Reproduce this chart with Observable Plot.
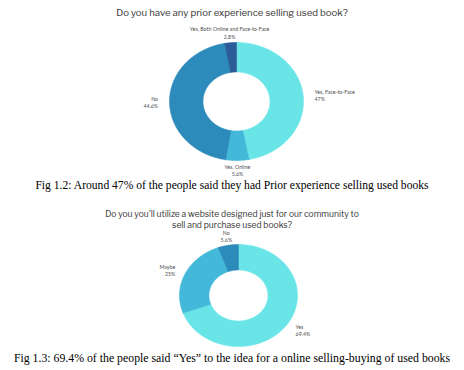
<!DOCTYPE html>
<html>
<head>
<meta charset="utf-8">
<script src="https://cdn.jsdelivr.net/npm/d3@7"></script>
<script src="https://cdn.jsdelivr.net/npm/@observablehq/plot@0.6"></script>
<style>
  html, body { margin: 0; padding: 0; background: #fff; }
  #wrap { position: relative; width: 464px; height: 370px; overflow: hidden; }
  .abs { position: absolute; left: 0; }
  .title { width: 464px; text-align: center; font-family: "Libre Franklin", Lato, "Open Sans", sans-serif; color: #333; }
  .caption { width: 464px; text-align: center; font-family: "Liberation Serif", "Times New Roman", serif; color: #000; white-space: nowrap; }
</style>
</head>
<body>
<div id="wrap"></div>
<script>
// Chart 1 data
const q1Title = "Do you have any prior experience selling used book?";
const q1Categories = ["Yes, Face-to-Face", "Yes, Online", "No", "Yes, Both Online and Face-to-Face"];
const q1Values = [47, 5.6, 44.6, 2.8];
const q1Caption = "Fig 1.2: Around 47% of the people said they had Prior experience selling used books";

// Chart 2 data
const q2Title = ["Do you you'll utilize a website designed just for our community to", "sell and purchase used books?"];
const q2Categories = ["Yes", "Maybe", "No"];
const q2Values = [69.4, 25, 5.6];
const q2Caption = "Fig 1.3: 69.4% of the people said \u201cYes\u201d to the idea for a online selling-buying of used books";

const q1Colors = ["#69e5e7", "#43b8d8", "#2d8bbb", "#2b5d98"];
const q2Colors = ["#69e5e7", "#43b8d8", "#2d8bbb"];

const wrap = document.getElementById("wrap");

function donut(categories, values, colors, g) {
  const data = categories.map((c, i) => ({key: c, value: values[i]}));
  const arcs = d3.pie().sort(null).value(d => d.value)(data);
  const inner = 0.5;
  const pts = [];
  for (const a of arcs) {
    const n = Math.max(2, Math.ceil((a.endAngle - a.startAngle) / (Math.PI / 180)) + 1);
    const ring = [];
    for (let i = 0; i < n; i++) {
      const t = a.startAngle + (a.endAngle - a.startAngle) * i / (n - 1);
      ring.push({key: a.data.key, x: Math.sin(t), y: Math.cos(t)});
    }
    for (let i = n - 1; i >= 0; i--) {
      const t = a.startAngle + (a.endAngle - a.startAngle) * i / (n - 1);
      ring.push({key: a.data.key, x: inner * Math.sin(t), y: inner * Math.cos(t)});
    }
    ring.push(ring[0]);
    pts.push(...ring);
  }
  const labels = arcs.map(a => {
    const m = (a.startAngle + a.endAngle) / 2;
    const s = Math.sin(m);
    return {
      x: g.lr * s,
      y: g.lr * Math.cos(m),
      text: a.data.key + "\n" + a.data.value + "%",
      anchor: s > 0.5 ? "start" : s < -0.5 ? "end" : "middle"
    };
  });
  const textOpts = {x: "x", y: "y", text: "text", fontSize: 5.3, fill: "#505050", lineHeight: 1.35,
    fontFamily: "Lato, 'Open Sans', sans-serif"};
  return Plot.plot({
    width: 464,
    height: g.h,
    style: {background: "transparent", overflow: "visible"},
    x: {domain: [-1, 1], range: [g.cx - g.rx, g.cx + g.rx], axis: null},
    y: {domain: [-1, 1], range: [g.cy + g.ry, g.cy - g.ry], axis: null},
    color: {domain: categories, range: colors},
    marks: [
      Plot.line(pts, {x: "x", y: "y", z: "key", fill: "key", stroke: "key", strokeWidth: 0.6, curve: "linear"}),
      Plot.text(labels.filter(d => d.anchor === "start"), {...textOpts, textAnchor: "start"}),
      Plot.text(labels.filter(d => d.anchor === "end"), {...textOpts, textAnchor: "end"}),
      Plot.text(labels.filter(d => d.anchor === "middle"), {...textOpts, textAnchor: "middle"})
    ]
  });
}

function place(el, top) {
  el.classList.add("abs");
  el.style.top = top + "px";
  wrap.appendChild(el);
  return el;
}

function div(cls, text, top, size) {
  const d = document.createElement("div");
  d.className = cls;
  d.style.fontSize = size + "px";
  d.style.lineHeight = "1.25";
  d.innerHTML = text;
  return place(d, top);
}

// Chart 1
div("title", q1Title, 7, 9.6);
place(donut(q1Categories, q1Values, q1Colors, {h: 180, cx: 236, cy: 101, rx: 67, ry: 59, lr: 1.17}), 0);
div("caption", q1Caption, 179, 11.6);

// Chart 2
div("title", q2Title.join("<br>"), 209, 8.5);
place(donut(q2Categories, q2Values, q2Colors, {h: 160, cx: 238, cy: 95, rx: 59, ry: 51, lr: 1.18}), 200);
div("caption", q2Caption, 351, 11.8);
</script>
</body>
</html>
